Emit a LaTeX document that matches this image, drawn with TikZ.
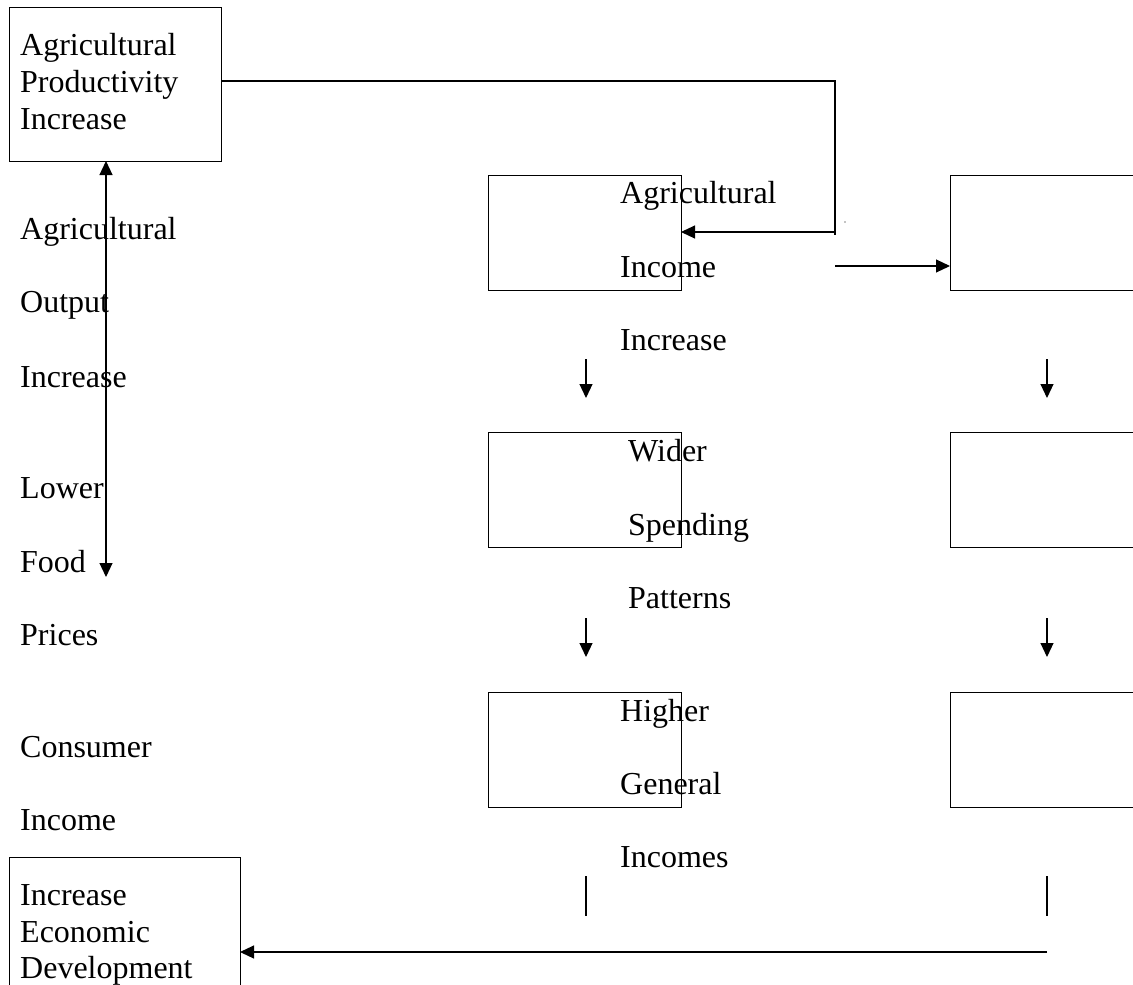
\documentclass[tikz,border=0pt]{standalone}
\usepackage{fontspec}
\setmainfont{Liberation Serif}
\usetikzlibrary{arrows.meta}
\begin{document}
\begin{tikzpicture}[x=1pt,y=-1pt,
  box/.style={draw, line width=1pt, inner sep=0pt, outer sep=0pt, anchor=north west},
  lbl/.style={anchor=base west, inner sep=0pt, font=\fontsize{32}{37}\selectfont},
  ln/.style={line width=1.1pt},
  arr/.style={line width=1.1pt, -{Triangle[length=14pt,width=13pt]}},
  darr/.style={line width=1.1pt, {Triangle[length=14pt,width=13pt]}-{Triangle[length=14pt,width=13pt]}}]
\clip (0,0) rectangle (1133,985);
\fill[white] (0,0) rectangle (1133,985);
% boxes
\node[box, minimum width=212pt, minimum height=154pt] (A) at (9,7) {};
\node[box, minimum width=193pt, minimum height=115pt] (B) at (488,175) {};
\node[box, minimum width=250pt, minimum height=115pt] (C) at (950,175) {};
\node[box, minimum width=193pt, minimum height=115pt] (D) at (488,432) {};
\node[box, minimum width=250pt, minimum height=115pt] (E) at (950,432) {};
\node[box, minimum width=193pt, minimum height=115pt] (F) at (488,692) {};
\node[box, minimum width=250pt, minimum height=115pt] (G) at (950,692) {};
\node[box, minimum width=231pt, minimum height=190pt] (H) at (9,857) {};
% texts in box A
\node[lbl] (a1) at (20,55) {Agricultural};
\node[lbl] (a2) at (20,92) {Productivity};
\node[lbl] (a3) at (20,129) {Increase};
% left column texts
\node[lbl] (l1) at (20,239) {Agricultural};
\node[lbl] (l2) at (20,312) {Output};
\node[lbl] (l3) at (20,387) {Increase};
\node[lbl] (l4) at (20,498) {Lower};
\node[lbl] (l5) at (20,572) {Food};
\node[lbl] (l6) at (20,645) {Prices};
\node[lbl] (l7) at (20,757) {Consumer};
\node[lbl] (l8) at (20,830) {Income};
% texts in box H
\node[lbl] (h1) at (20,905) {Increase};
\node[lbl] (h2) at (20,942) {Economic};
\node[lbl] (h3) at (20,978) {Development};
% middle texts
\node[lbl] (m1) at (620,203) {Agricultural};
\node[lbl] (m2) at (620,277) {Income};
\node[lbl] (m3) at (620,350) {Increase};
\node[lbl] (m4) at (628,461) {Wider};
\node[lbl] (m5) at (628,535) {Spending};
\node[lbl] (m6) at (628,608) {Patterns};
\node[lbl] (m7) at (620,721) {Higher};
\node[lbl] (m8) at (620,794) {General};
\node[lbl] (m9) at (620,867) {Incomes};
% coordinates for free ends
\coordinate (corner) at (835,232);
\coordinate (s1) at (835,266);
\coordinate (lb) at (106,577);
\coordinate (d1a) at (586,359); \coordinate (d1b) at (586,398);
\coordinate (d2a) at (1047,359); \coordinate (d2b) at (1047,398);
\coordinate (d3a) at (586,618); \coordinate (d3b) at (586,657);
\coordinate (d4a) at (1047,618); \coordinate (d4b) at (1047,657);
\coordinate (v1a) at (586,876); \coordinate (v1b) at (586,916);
\coordinate (v2a) at (1047,876); \coordinate (v2b) at (1047,916);
\coordinate (bstart) at (1047,952);
% connectors
\draw[arr] ([yshift=3pt]A.east) -| (corner) -- (corner -| B.east);
\draw[ln] (corner) -- ++(0,3);
\draw[arr] (s1) -- (s1 -| C.west);
\draw[darr] ([xshift=-9pt]A.south) -- (lb);
\draw[arr] (d1a) -- (d1b);
\draw[arr] (d2a) -- (d2b);
\draw[arr] (d3a) -- (d3b);
\draw[arr] (d4a) -- (d4b);
\draw[ln] (v1a) -- (v1b);
\draw[ln] (v2a) -- (v2b);
\draw[arr] (bstart) -- (bstart -| H.east);
\fill (845,222) circle (0.7pt);
\end{tikzpicture}
\end{document}
